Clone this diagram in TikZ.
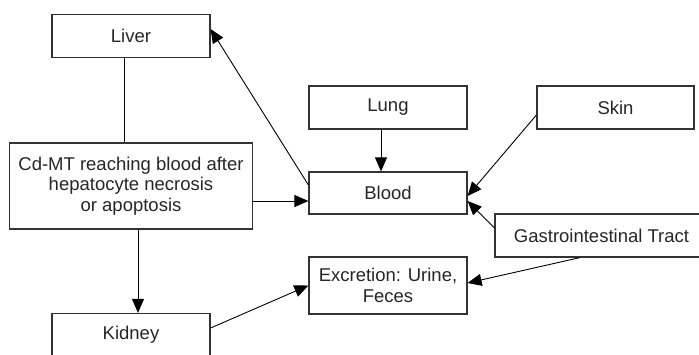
\documentclass[tikz,border=0pt]{standalone}
\usepackage{fontspec}
\setmainfont{Liberation Sans}
\usetikzlibrary{arrows.meta}
\tikzset{
  organ/.style={draw=black!80, line width=1.2pt, minimum width=158pt, minimum height=43pt,
    inner sep=0pt, align=center, text=black!85, font=\fontsize{18.5}{20.5}\selectfont},
  flow/.style={line width=0.9pt, -{Triangle[length=14pt,width=12pt]}},
  link/.style={line width=0.9pt},
}

\begin{document}
\begin{tikzpicture}[x=1pt,y=1pt]
			%%%%% START %%%%%
			\clip (0,0) rectangle (699,354);
			
			\node[organ] (liver) at (131,318) {Liver};
			\node[organ, minimum width=243pt, minimum height=86pt] (cdmt) at (131,168) {Cd-MT reaching blood after\\hepatocyte necrosis\\or apoptosis};
			\node[organ] (kidney) at (131,19) {Kidney};
			
			\node[organ] (lung) at (388,246.5) {Lung};
			\node[organ, minimum height=42pt] (blood) at (388,161) {Blood};
			\node[organ, minimum height=57pt] (excr) at (388,68.5) {Excretion: Urine,\\Feces};
			
			\node[organ, minimum width=157pt] (skin) at (615.5,246.5) {Skin};
			\node[organ, minimum width=213pt] (gi) at (601.5,118.5) {Gastrointestinal Tract};
			
			\coordinate (bloodin) at ([yshift=-8pt]blood.west);
			
			\draw[link] ([xshift=-7pt]liver.south) -- ([xshift=-7pt]liver.south |- cdmt.north);
			\draw[flow] ([yshift=8pt]blood.west) -- ([yshift=7pt]liver.east);
			\draw[flow] ([xshift=-7pt]lung.south) -- ([xshift=-7pt]blood.north);
			\draw[flow] ([yshift=-7.5pt]skin.west) -- ([yshift=-3pt]blood.east);
			\draw[flow] ([yshift=7.5pt]gi.west) -- ([yshift=-8pt]blood.east);
			\draw[flow] (cdmt.east |- bloodin) -- (bloodin);
			
			\draw[flow] ([xshift=7pt]cdmt.south) -- ([xshift=7pt]kidney.north);
			\draw[flow] ([yshift=7pt]kidney.east) -- (excr.west);
			\draw[flow] ([xshift=-21.5pt]gi.south) -- ([yshift=2.5pt]excr.east);
			
			%%%%% END %%%%%
\end{tikzpicture}
\end{document}
